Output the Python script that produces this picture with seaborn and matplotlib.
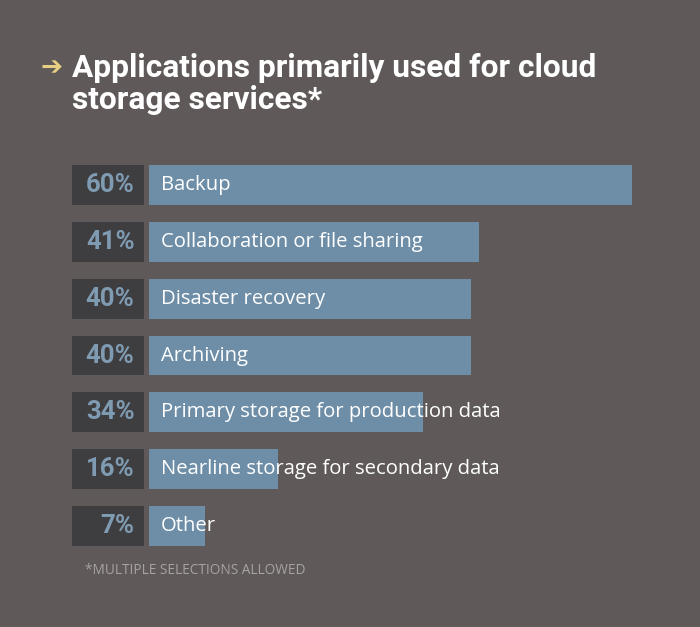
import seaborn as sns
import pandas as pd
from matplotlib import pyplot as plt

categories = ["Backup", "Collaboration or file sharing", "Disaster recovery",
              "Archiving", "Primary storage for production data",
              "Nearline storage for secondary data", "Other"]
values = [60, 41, 40, 40, 34, 16, 7]

BG = "#5f5a59"
BAR = "#6e8ea7"
BOX = "#3e3d3f"
PCT = "#7f9bb2"

df = pd.DataFrame({"app": categories, "pct": values})

fig = plt.figure(figsize=(7, 6.27), dpi=100, facecolor=BG)
# axes spans from the label boxes (x=72px) to the end of the longest bar (632px)
ax = fig.add_axes([72 / 700, 1 - 554.4 / 627, (632 - 72) / 700, (554.4 - 156.6) / 627])
ax.set_facecolor(BG)

unit = 483 / 60.0  # pixels per percent
xmin = -77 / unit
box_w = 72 / unit

sns.barplot(data=df, y="app", x="pct", orient="h", color=BAR, width=0.70,
            saturation=1, ax=ax)
for p in ax.patches:
    p.set_edgecolor("none")
for i, (cat, v) in enumerate(zip(categories, values)):
    ax.barh(i, box_w, left=xmin, height=0.70, color=BOX, edgecolor="none")
    ax.text(1.5, i, cat, ha="left", va="center", color="white",
            fontsize=14.6, family="Open Sans")
    ax.text(-1.8, i, f"{v}%", ha="right", va="center", color=PCT,
            fontsize=18.5, fontweight="bold", family="Roboto")

ax.set_xlim(xmin, 60)
ax.set_ylim(6.5, -0.5)
ax.axis("off")

fig.text(40 / 700, 1 - 68 / 627, "\u2794", color="#e6cf85", fontsize=19,
         ha="left", va="center", family="DejaVu Sans")
fig.text(72 / 700, 1 - 68 / 627, "Applications primarily used for cloud",
         color="white", fontsize=22.8, fontweight="bold", va="center", family="Roboto")
fig.text(72 / 700, 1 - 100 / 627, "storage services*",
         color="white", fontsize=22.8, fontweight="bold", va="center", family="Roboto")
fig.text(85 / 700, 1 - 570 / 627, "*MULTIPLE SELECTIONS ALLOWED",
         color="#a7a3a2", fontsize=9.8, va="center", family="Open Sans")

fig.savefig("out.png", dpi=100, facecolor=BG)
